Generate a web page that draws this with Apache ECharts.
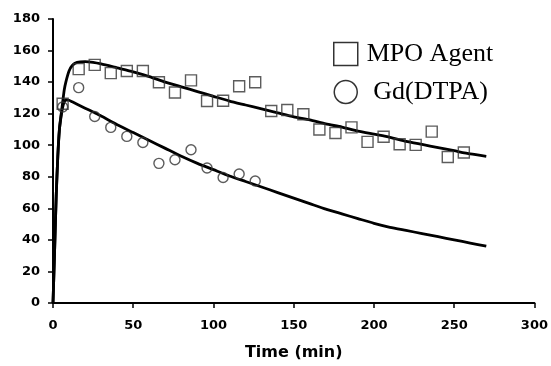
<!DOCTYPE html>
<html>
<head>
<meta charset="utf-8">
<script src="https://cdn.jsdelivr.net/npm/echarts@6/dist/echarts.min.js"></script>
<style>
html,body{margin:0;padding:0;background:#fff;}
#chart{width:551px;height:366px;}
</style>
</head>
<body>
<div id="chart"></div>
<script>
// Measured data points
const mpoTime = [6,16,26,36,46,56,66,76,86,96,106,116,126,136,146,156,166,176,186,196,206,216,226,236,246,256];
const mpoVals = [126.3,148.2,150.9,145.7,147,147,139.9,133.4,141.1,128,128.2,137.4,139.9,121.7,122.3,119.6,110,107.7,111.3,102.1,105.4,100.6,100.2,108.6,92.5,95.4];
const gdTime = [6,16,26,36,46,56,66,76,86,96,106,116,126];
const gdVals = [124.2,136.5,118.2,111.3,105.6,101.7,88.5,90.8,97.1,85.6,79.5,81.8,77.3];

// Fitted curves
const fitTime = [0,1,2,3,4,5,6,7,8,10,12,15,20,25,30,40,50,60,70,80,90,100,110,120,130,140,150,160,170,180,190,200,210,220,230,240,250,260,270];
const mpoFit = [0,33,68,93,110,119,127,135,140,147,150.5,152.5,153,152.5,151.5,149,146.5,143.5,140,137,134,131,128,125.5,123,120.5,118,116,113.5,111.5,109,107,105,102.5,100.5,98.5,96.5,94.5,93];
const gdFit = [0,33,68,93,110,118,124,127.5,128.8,128.5,127.5,126,123.5,121,118.5,113,108,103,98,93,88.5,84.5,80.5,77,73.5,70,66.5,63,59.5,56.5,53.5,50.5,48,46,44,42,40,38,36];

const xTicks = {min:0, max:300, interval:50};
const yTicks = {min:0, max:180, interval:20};

const pairs = (xs, ys) => xs.map((x, i) => [x, ys[i]]);

const chart = echarts.init(document.getElementById('chart'), null, {renderer:'canvas'});
const labelStyle = {color:'#000', fontFamily:'DejaVu Sans', fontWeight:'bold', fontSize:13};

chart.setOption({
  animation:false,
  backgroundColor:'#fff',
  grid:{left:53, top:19, width:483, height:288, containLabel:false},
  legend:{
    orient:'vertical',
    left:328, top:36,
    itemWidth:24, itemHeight:23,
    itemGap:12,
    selectedMode:false,
    textStyle:{color:'#000', fontFamily:'Liberation Serif', fontSize:26, padding:[0,0,0,4], lineHeight:23},
    data:[
      {name:'MPO Agent', icon:'rect', itemStyle:{color:'#fff', borderColor:'#000', borderWidth:1.5}},
      {name:'Gd(DTPA)', icon:'circle', itemStyle:{color:'#fff', borderColor:'#000', borderWidth:1.5}}
    ],
    formatter: n => n === 'Gd(DTPA)' ? ' ' + n : n
  },
  xAxis:{
    type:'value', min:xTicks.min, max:xTicks.max, interval:xTicks.interval,
    name:'Time (min)', nameLocation:'middle', nameGap:42,
    nameTextStyle:{color:'#000', fontFamily:'DejaVu Sans', fontWeight:'bold', fontSize:16},
    axisLine:{show:true, onZero:false, lineStyle:{color:'#000', width:2}},
    axisTick:{show:true, length:5, lineStyle:{color:'#000', width:1.5}},
    axisLabel:Object.assign({margin:16}, labelStyle),
    splitLine:{show:false}
  },
  yAxis:{
    type:'value', min:yTicks.min, max:yTicks.max, interval:yTicks.interval,
    axisLine:{show:true, onZero:false, lineStyle:{color:'#000', width:2}},
    axisTick:{show:true, length:5, lineStyle:{color:'#000', width:1.5}},
    axisLabel:Object.assign({margin:13}, labelStyle),
    splitLine:{show:false}
  },
  series:[
    {
      name:'MPO fit', type:'line', data:pairs(fitTime, mpoFit),
      showSymbol:false, smooth:0.2, lineStyle:{color:'#000', width:2.8}, z:2, silent:true
    },
    {
      name:'Gd fit', type:'line', data:pairs(fitTime, gdFit),
      showSymbol:false, smooth:0.2, lineStyle:{color:'#000', width:2.8}, z:2, silent:true
    },
    {
      name:'MPO Agent', type:'scatter', data:pairs(mpoTime, mpoVals),
      symbol:'rect', symbolSize:11,
      itemStyle:{color:'rgba(255,255,255,0)', borderColor:'#333', borderWidth:1.4}, z:3
    },
    {
      name:'Gd(DTPA)', type:'scatter', data:pairs(gdTime, gdVals),
      symbol:'circle', symbolSize:10,
      itemStyle:{color:'rgba(255,255,255,0)', borderColor:'#333', borderWidth:1.4}, z:3
    }
  ]
});
</script>
</body>
</html>
